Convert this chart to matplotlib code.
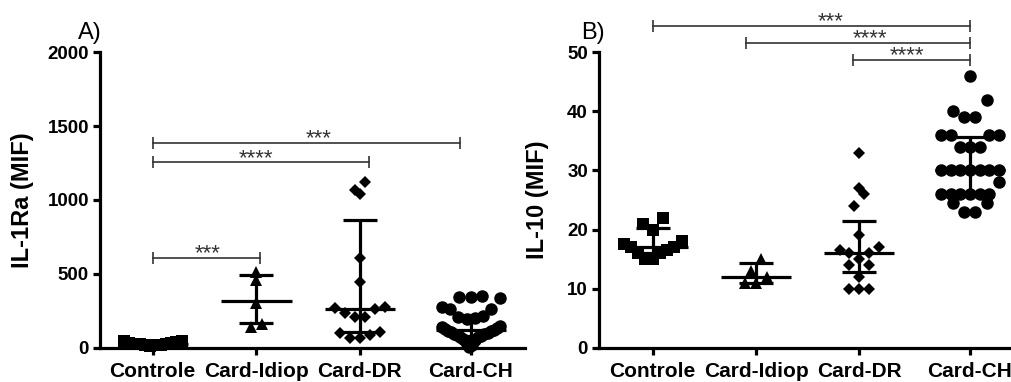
import numpy as np
import matplotlib
matplotlib.use('Agg')
import matplotlib.pyplot as plt

plt.rcParams['font.family'] = ['Liberation Sans', 'DejaVu Sans']

# ---------------- data ----------------
groups = ['Controle', 'Card-Idiop', 'Card-DR', 'Card-CH']
group_pos = [0, 1, 2, 3.07]
group_markers = ['s', '^', 'D', 'o']

# Panel A: IL-1Ra (MIF)
il1ra_controle = [45, 42, 38, 35, 30, 28, 25, 22, 20, 18, 15, 12]
il1ra_idiop = [515, 459, 301, 159, 142]
il1ra_dr = [1119, 1065, 1042, 606, 448, 273, 267, 262, 233, 206, 206, 104, 97, 86, 64, 64]
il1ra_ch = [350, 345, 340, 335, 275, 265, 260, 215, 205, 200, 195, 150, 140, 130, 125,
            120, 115, 110, 105, 100, 95, 90, 85, 80, 75, 70, 60, 50, 40, 20, 5]
il1ra_median = [25, 319, 260, 120]
il1ra_q1 = [15, 170, 104, 80]
il1ra_q3 = [38, 493, 866, 220]

# Panel B: IL-10 (MIF)
il10_controle = [22, 21, 20, 18, 17.5, 17, 17, 16.5, 16, 16, 15, 15]
il10_idiop = [15, 13, 12, 11, 11]
il10_dr = [33, 27, 26, 24, 19, 17, 16.5, 16, 16, 15, 14, 14, 12, 10, 10, 10]
il10_ch = [46, 42, 40, 39, 39, 36, 36, 36, 36, 34, 34, 34, 30, 30, 30, 30, 30, 30, 30,
           28, 26, 26, 26, 26, 26, 26, 24.5, 24.5, 23, 23]
il10_median = [17, 12, 16, 30]
il10_q1 = [16, 11, 12.8, 26]
il10_q3 = [20.2, 14.3, 21.4, 35.7]

# significance brackets: (start pos, end pos, height, label, label x)
brackets_a = [(0, 1.036, 610, '***', 0.53),
              (0, 2.09, 1257, '****', 1.0),
              (0, 2.97, 1386, '***', 1.6)]
brackets_b = [(0, 3.07, 54.5, '***', 1.72),
              (0.906, 3.07, 51.6, '****', 2.10),
              (1.94, 3.07, 48.7, '****', 2.46)]

# ---------------- style ----------------
marker_pt = {'s': 8.0, '^': 9.0, 'D': 6.2, 'o': 9.0}
marker_px = {'s': 11, '^': 12, 'D': 11, 'o': 12.5}
LW = 2.3
MAX_HALF_PX = 29
SPACING = 0.9
BIN_ROWS = 2.0

fig = plt.figure(figsize=(10.12, 3.82), dpi=100)
axA = fig.add_axes([100 / 1012, 1 - 347.7 / 382, 425 / 1012, 295.4 / 382])
axB = fig.add_axes([599 / 1012, 1 - 347.7 / 382, 413 / 1012, 295.4 / 382])


def scatter_dot_x(ax, xc, values, diam_px):
    """Prism-like scatter dot layout: bin values into rows, spread each row
    horizontally (lowest values in the middle)."""
    vals = np.asarray(values, dtype=float)
    pts = ax.transData.transform(np.column_stack([np.full(len(vals), xc), vals]))
    base = ax.transData.transform([[xc, 0.0]])[0, 1]
    ys = pts[:, 1]
    x0 = pts[0, 0]
    bins = np.floor((ys - base) / (BIN_ROWS * diam_px)).astype(int)
    offs = np.zeros(len(vals))
    for b in np.unique(bins):
        idx = np.where(bins == b)[0]
        idx = idx[np.argsort(vals[idx], kind='stable')]
        n = len(idx)
        if n == 1:
            continue
        s = min(SPACING * diam_px, 2 * MAX_HALF_PX / (n - 1))
        slots = (np.arange(n) - (n - 1) / 2) * s
        order = np.argsort(np.abs(slots) + 1e-6 * (slots > 0), kind='stable')
        offs[idx] = slots[order]
    back = ax.transData.inverted().transform(np.column_stack([x0 + offs, ys]))
    return back[:, 0]


def panel(ax, data, med, q1, q3, xlim, yticks, ylabel, brackets, label_x):
    ax.set_xlim(xlim[0], xlim[1])
    ax.set_ylim(yticks[0], yticks[-1])
    for vals, pos, mk in zip(data, group_pos, group_markers):
        xs = scatter_dot_x(ax, pos, vals, marker_px[mk])
        ax.plot(xs, vals, linestyle='none', marker=mk, ms=marker_pt[mk],
                color='black', mec='black', mew=0, clip_on=False, zorder=3)
    for pos, m, a, b in zip(group_pos, med, q1, q3):
        ax.hlines(m, pos - 0.34, pos + 0.34, color='black', lw=LW, zorder=4)
        ax.hlines([a, b], pos - 0.165, pos + 0.165, color='black', lw=LW, zorder=4)
        ax.vlines(pos, a, b, color='black', lw=LW, zorder=4)
    for x1, x2, y, lab, lx in brackets:
        ax.plot([x1, x2], [y, y], color='#333333', lw=1.2, clip_on=False,
                marker='|', ms=8.5, mew=1.2, zorder=5)
        ax.annotate(lab, xy=(lx, y), xytext=(0, -1.2), textcoords='offset points',
                    ha='center', va='baseline', fontsize=16, color='#333333',
                    annotation_clip=False)
    for s in ['top', 'right']:
        ax.spines[s].set_visible(False)
    for s in ['left', 'bottom']:
        ax.spines[s].set_linewidth(LW)
    ax.set_yticks(yticks)
    ax.set_xticks(group_pos)
    ax.set_xticklabels(groups, fontsize=15, fontweight='bold')
    ax.tick_params(axis='both', width=LW, length=5, direction='out', color='black')
    ax.tick_params(axis='y', labelsize=13.5, pad=3)
    ax.tick_params(axis='x', pad=5)
    for t in ax.get_yticklabels():
        t.set_fontweight('bold')
    ax.set_ylabel(ylabel, fontsize=17, fontweight='bold')
    ax.yaxis.set_label_coords(label_x, 0.5)


panel(axA, [il1ra_controle, il1ra_idiop, il1ra_dr, il1ra_ch], il1ra_median, il1ra_q1, il1ra_q3,
      (-0.509, 3.594), [0, 500, 1000, 1500, 2000], 'IL-1Ra (MIF)', brackets_a, -0.155)
panel(axB, [il10_controle, il10_idiop, il10_dr, il10_ch], il10_median, il10_q1, il10_q3,
      (-0.52, 3.478), [0, 10, 20, 30, 40, 50], 'IL-10 (MIF)', brackets_b, -0.12)

fig.text(78 / 1012, 1 - 39 / 382, 'A)', fontsize=17, va='baseline', ha='left')
fig.text(581 / 1012, 1 - 39 / 382, 'B)', fontsize=17, va='baseline', ha='left')

fig.savefig('out.png', dpi=100)
